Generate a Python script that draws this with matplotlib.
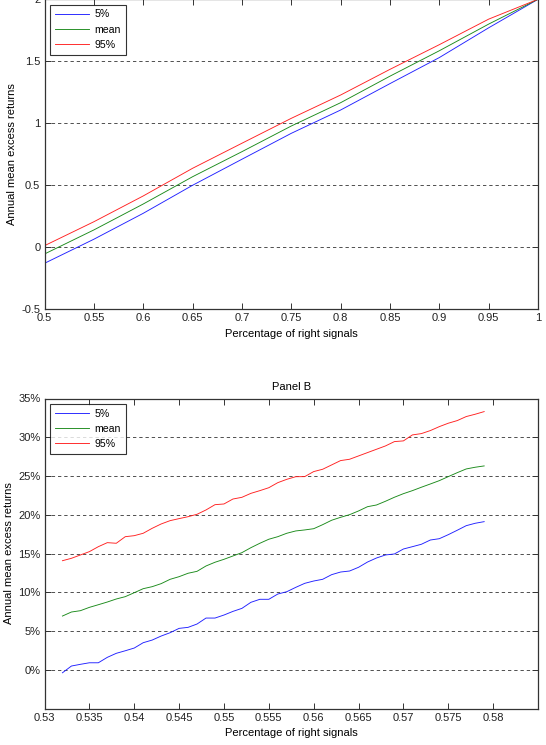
import matplotlib
matplotlib.use("Agg")
import matplotlib.pyplot as plt
from matplotlib.ticker import FuncFormatter

plt.rcParams['font.family'] = ['Liberation Sans', 'DejaVu Sans']
plt.rcParams['font.size'] = 8

# ---------------- Panel A data ----------------
xa = [0.50, 0.55, 0.60, 0.65, 0.70, 0.75, 0.80, 0.85, 0.90, 0.95, 1.00]
a_p5 = [-0.129, 0.065, 0.274, 0.500, 0.710, 0.919, 1.107, 1.320, 1.530, 1.770, 2.000]
a_mean = [-0.054, 0.140, 0.349, 0.569, 0.771, 0.978, 1.166, 1.380, 1.585, 1.800, 2.000]
a_p95 = [0.013, 0.206, 0.414, 0.637, 0.839, 1.040, 1.228, 1.435, 1.634, 1.840, 2.000]

# ---------------- Panel B data ----------------
xb = [0.532, 0.533, 0.534, 0.535, 0.536, 0.537, 0.538, 0.539, 0.540, 0.541,
      0.542, 0.543, 0.544, 0.545, 0.546, 0.547, 0.548, 0.549, 0.550, 0.551,
      0.552, 0.553, 0.554, 0.555, 0.556, 0.557, 0.558, 0.559, 0.560, 0.561,
      0.562, 0.563, 0.564, 0.565, 0.566, 0.567, 0.568, 0.569, 0.570, 0.571,
      0.572, 0.573, 0.574, 0.575, 0.576, 0.577, 0.578, 0.579]
b_p5 = [-0.39, 0.48, 0.70, 0.90, 0.90, 1.60, 2.12, 2.45, 2.80, 3.49,
        3.83, 4.35, 4.78, 5.34, 5.47, 5.90, 6.67, 6.67, 7.06, 7.53,
        7.92, 8.70, 9.09, 9.09, 9.77, 10.07, 10.63, 11.15, 11.45, 11.67,
        12.27, 12.61, 12.74, 13.22, 13.90, 14.42, 14.81, 14.94, 15.58, 15.88,
        16.19, 16.74, 16.91, 17.43, 18.00, 18.59, 18.90, 19.11]
b_mean = [6.93, 7.45, 7.62, 8.05, 8.39, 8.74, 9.13, 9.43, 9.94, 10.46,
          10.72, 11.11, 11.67, 12.01, 12.45, 12.70, 13.39, 13.87, 14.25, 14.68,
          15.11, 15.75, 16.32, 16.84, 17.17, 17.61, 17.91, 18.04, 18.20, 18.72,
          19.29, 19.67, 20.01, 20.49, 21.04, 21.26, 21.74, 22.26, 22.72, 23.11,
          23.55, 23.97, 24.40, 24.92, 25.43, 25.91, 26.13, 26.30]
b_p95 = [14.07, 14.38, 14.81, 15.24, 15.88, 16.40, 16.32, 17.17, 17.30, 17.61,
         18.25, 18.81, 19.24, 19.50, 19.75, 20.06, 20.62, 21.30, 21.39, 22.03,
         22.25, 22.76, 23.11, 23.49, 24.14, 24.57, 24.91, 24.92, 25.57, 25.87,
         26.43, 26.99, 27.16, 27.59, 28.02, 28.45, 28.88, 29.44, 29.53, 30.30,
         30.47, 30.86, 31.37, 31.81, 32.15, 32.67, 32.97, 33.31]

series_labels = ['5%', 'mean', '95%']
colors = ['#2020ff', '#1a8a1a', '#ff2020']

xa_ticks = [0.5, 0.55, 0.6, 0.65, 0.7, 0.75, 0.8, 0.85, 0.9, 0.95, 1.0]
ya_ticks = [-0.5, 0, 0.5, 1, 1.5, 2]
xb_ticks = [0.53, 0.535, 0.54, 0.545, 0.55, 0.555, 0.56, 0.565, 0.57, 0.575, 0.58]
yb_ticks = [0, 5, 10, 15, 20, 25, 30, 35]

W, H = 546, 745
fig = plt.figure(figsize=(W / 100, H / 100), dpi=100)

def px_axes(left, top, right, bottom):
    return fig.add_axes([left / W, 1 - bottom / H, (right - left) / W, (bottom - top) / H])

axA = px_axes(44.5, -0.7, 538, 309.3)
axB = px_axes(44.5, 398.5, 538, 708.5)

def style(ax):
    for s in ax.spines.values():
        s.set_color('#333333')
        s.set_linewidth(0.9)
    ax.tick_params(direction='in', length=4, width=0.7, color='#333333',
                   top=True, right=True, labelsize=8, pad=3, labelcolor='#222222')
    ax.yaxis.grid(True, linestyle=(0, (4, 3.5)), color='#333333', linewidth=0.6)
    ax.set_axisbelow(True)

def legend(ax):
    leg = ax.legend(loc='upper left', frameon=True, fancybox=False, fontsize=7.6,
                    handlelength=3.3, handletextpad=0.5, borderaxespad=0.5,
                    labelspacing=0.5, borderpad=0.45)
    leg.get_frame().set_edgecolor('black')
    leg.get_frame().set_linewidth(0.8)

fmt_g = FuncFormatter(lambda v, p: ('%g' % v))

# Panel A
for ys, lab, c in zip([a_p5, a_mean, a_p95], series_labels, colors):
    axA.plot(xa, ys, color=c, lw=0.65, label=lab)
axA.set_xlim(0.5, 1.0)
axA.set_ylim(-0.5, 2.0)
axA.set_xticks(xa_ticks)
axA.set_yticks(ya_ticks)
axA.xaxis.set_major_formatter(fmt_g)
axA.yaxis.set_major_formatter(fmt_g)
style(axA)
axA.set_xlabel('Percentage of right signals', fontsize=8, labelpad=4)
axA.set_ylabel('Annual mean excess returns', fontsize=8, labelpad=3)
legend(axA)

# Panel B
for ys, lab, c in zip([b_p5, b_mean, b_p95], series_labels, colors):
    axB.plot(xb, ys, color=c, lw=0.65, label=lab)
axB.set_xlim(0.53, 0.585)
axB.set_ylim(-5, 35)
axB.set_xticks(xb_ticks)
axB.set_yticks(yb_ticks)
axB.xaxis.set_major_formatter(fmt_g)
axB.yaxis.set_major_formatter(FuncFormatter(lambda v, p: '%g%%' % v))
style(axB)
axB.set_xlabel('Percentage of right signals', fontsize=8, labelpad=4)
axB.set_ylabel('Annual mean excess returns', fontsize=8, labelpad=3)
axB.set_title('Panel B', fontsize=8, pad=6)
legend(axB)

fig.savefig('out.png', dpi=100)
